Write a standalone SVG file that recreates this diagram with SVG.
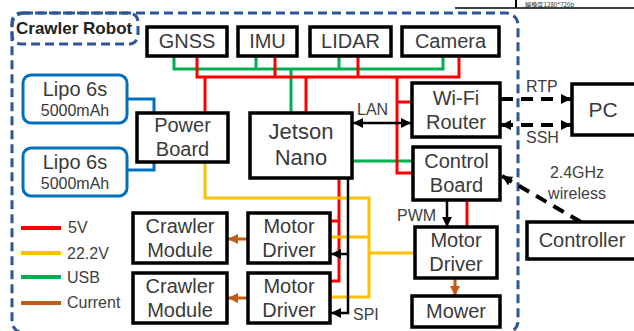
<svg xmlns="http://www.w3.org/2000/svg" width="634" height="331" viewBox="0 0 634 331">
<style>
  .box { fill: #fff; stroke: #000; stroke-width: 3.5; }
  .lipo { fill: #fff; stroke: #0070C0; stroke-width: 3; }
  .t { font-family: "Liberation Sans", Arial, sans-serif; fill: #3a3a3a; text-anchor: middle; }
  .b20 { font-size: 20px; }
  .s16 { font-size: 16px; }
  .lbl { font-family: "Liberation Sans", Arial, sans-serif; fill: #404040; font-size: 16px; }
  .red { stroke: #FF0000; stroke-width: 3; fill: none; }
  .yel { stroke: #FFC000; stroke-width: 3; fill: none; }
  .grn { stroke: #00B050; stroke-width: 3; fill: none; }
  .cur { stroke: #C55A11; stroke-width: 3; fill: none; }
  .blu { stroke: #0070C0; stroke-width: 3; fill: none; }
  .blk { stroke: #000; stroke-width: 2.5; fill: none; }
  .dsh { stroke: #000; stroke-width: 4; fill: none; stroke-dasharray: 12 8; }
  .cont { fill: none; stroke: #2F5597; stroke-width: 3; stroke-dasharray: 9 5; }
</style>
<defs>
  <marker id="ah" viewBox="0 0 10 10" refX="10" refY="5" markerWidth="10" markerHeight="10" markerUnits="userSpaceOnUse" orient="auto-start-reverse">
    <path d="M0,0 L10,5 L0,10 z" fill="#000"/>
  </marker>
  <marker id="ahc" viewBox="0 0 10 10" refX="10" refY="5" markerWidth="10" markerHeight="10" markerUnits="userSpaceOnUse" orient="auto">
    <path d="M0,0 L10,5 L0,10 z" fill="#C55A11"/>
  </marker>
</defs>
<rect width="634" height="331" fill="#fff"/>

<!-- cropped table fragment at top -->
<g id="fragment">
  <line x1="455" y1="8" x2="634" y2="8" stroke="#000" stroke-width="1.5"/>
  <line x1="516" y1="0" x2="516" y2="8" stroke="#000" stroke-width="2"/>
  <text x="525" y="7" font-family="'Noto Sans CJK JP', sans-serif" font-size="6.2" fill="#333">解像度1280*720p</text>
</g>

<!-- container -->
<g id="crawler-robot">
  <rect class="cont" x="12" y="13" width="506" height="320" rx="12"/>
  <rect class="cont" x="12" y="13" width="126" height="31" rx="9"/>
  <text x="16" y="34" font-family="'Liberation Sans', Arial, sans-serif" font-weight="bold" font-size="17" fill="#222">Crawler Robot</text>
</g>

<!-- connectors -->
<g id="connectors">
  <!-- USB bus -->
  <polyline class="grn" points="174,56 174,69 443,69 443,56"/>
  <line class="grn" x1="256" y1="56" x2="256" y2="69"/>
  <line class="grn" x1="339" y1="56" x2="339" y2="69"/>
  <line class="grn" x1="291" y1="69" x2="291" y2="113"/>
  <line class="grn" x1="352" y1="161" x2="413" y2="161"/>
  <!-- 5V bus -->
  <polyline class="red" points="197,56 197,77 459,77 459,56"/>
  <line class="red" x1="275" y1="56" x2="275" y2="77"/>
  <line class="red" x1="358" y1="56" x2="358" y2="77"/>
  <line class="red" x1="205" y1="77" x2="205" y2="113"/>
  <line class="red" x1="306" y1="77" x2="306" y2="113"/>
  <polyline class="red" points="397,77 397,173 413,173"/>
  <line class="red" x1="397" y1="102" x2="412" y2="102"/>
  <line class="red" x1="467" y1="200" x2="467" y2="227"/>
  <polyline class="red" points="339,178 339,281 330,281"/>
  <line class="red" x1="339" y1="221" x2="330" y2="221"/>
  <!-- 22.2V -->
  <polyline class="yel" points="205,162 205,198 369,198 369,297 330,297"/>
  <line class="yel" x1="369" y1="237" x2="330" y2="237"/>
  <line class="yel" x1="369" y1="253" x2="415" y2="253"/>
  <!-- Lipo to Power board -->
  <polyline class="blu" points="127,99 154,99 154,113"/>
  <polyline class="blu" points="127,170 154,170 154,162"/>
  <!-- LAN -->
  <line class="blk" x1="353" y1="123" x2="411" y2="123" marker-start="url(#ah)" marker-end="url(#ah)"/>
  <!-- SPI -->
  <polyline class="blk" points="348,178 348,313 331,313" marker-end="url(#ah)"/>
  <line class="blk" x1="348" y1="254" x2="331" y2="254" marker-end="url(#ah)"/>
  <!-- PWM -->
  <line class="blk" x1="447" y1="200" x2="447" y2="227" marker-end="url(#ah)"/>
  <!-- Current -->
  <line class="cur" x1="455" y1="278" x2="455" y2="296" marker-end="url(#ahc)"/>
  <line class="cur" x1="248" y1="239" x2="228" y2="239" marker-end="url(#ahc)"/>
  <line class="cur" x1="248" y1="298" x2="228" y2="298" marker-end="url(#ahc)"/>
  <!-- RTP / SSH -->
  <line class="dsh" x1="501" y1="99" x2="571" y2="99" marker-end="url(#ah)"/>
  <line class="dsh" x1="501" y1="125" x2="571" y2="125" marker-start="url(#ah)" marker-end="url(#ah)"/>
  <!-- wireless -->
  <line class="dsh" x1="581" y1="222" x2="502" y2="176" marker-end="url(#ah)"/>
</g>

<!-- connector labels -->
<g id="labels">
  <text class="lbl" x="357" y="115" font-size="15">LAN</text>
  <text class="lbl" x="526" y="92">RTP</text>
  <text class="lbl" x="526" y="143">SSH</text>
  <text class="lbl" x="397" y="221">PWM</text>
  <text class="lbl" x="353" y="320">SPI</text>
  <text class="lbl" x="577" y="178" font-size="17" text-anchor="middle">2.4GHz</text>
  <text class="lbl" x="577" y="199" font-size="16" text-anchor="middle">wireless</text>
</g>

<!-- legend -->
<g id="legend">
  <line x1="21" y1="228" x2="61" y2="228" stroke="#FF0000" stroke-width="4"/>
  <line x1="21" y1="253" x2="61" y2="253" stroke="#FFC000" stroke-width="4"/>
  <line x1="21" y1="277" x2="61" y2="277" stroke="#00B050" stroke-width="4"/>
  <line x1="21" y1="303" x2="61" y2="303" stroke="#C55A11" stroke-width="4"/>
  <text class="lbl" x="68" y="233" font-size="17">5V</text>
  <text class="lbl" x="67" y="259" font-size="17">22.2V</text>
  <text class="lbl" x="67" y="283" font-size="17">USB</text>
  <text class="lbl" x="67" y="308" font-size="17">Current</text>
</g>

<!-- nodes -->
<g id="gnss"><rect class="box" x="147" y="27" width="80" height="29"/><text class="t b20" x="187" y="48">GNSS</text></g>
<g id="imu"><rect class="box" x="238" y="27" width="59" height="29"/><text class="t b20" x="267.5" y="48">IMU</text></g>
<g id="lidar"><rect class="box" x="310" y="27" width="81" height="29"/><text class="t b20" x="350.5" y="48">LIDAR</text></g>
<g id="camera"><rect class="box" x="402" y="27" width="97" height="29"/><text class="t b20" x="450.5" y="48">Camera</text></g>

<g id="lipo1"><rect class="lipo" x="23" y="75" width="104" height="48" rx="8"/><text class="t b20" x="75" y="96">Lipo 6s</text><text class="t s16" x="75" y="116">5000mAh</text></g>
<g id="lipo2"><rect class="lipo" x="23" y="148" width="104" height="48" rx="8"/><text class="t b20" x="75" y="169">Lipo 6s</text><text class="t s16" x="75" y="189">5000mAh</text></g>

<g id="power-board"><rect class="box" x="137" y="113" width="91" height="49"/><text class="t b20" x="182.5" y="132">Power</text><text class="t b20" x="182.5" y="156">Board</text></g>
<g id="jetson-nano"><rect class="box" x="250" y="113" width="102" height="65"/><text class="t" font-size="22" x="301" y="139">Jetson</text><text class="t" font-size="22" x="301" y="165">Nano</text></g>
<g id="wifi-router"><rect class="box" x="412" y="83" width="88" height="54"/><text class="t b20" x="456" y="105">Wi-Fi</text><text class="t b20" x="456" y="129">Router</text></g>
<g id="control-board"><rect class="box" x="413" y="147" width="87" height="53"/><text class="t b20" x="456.5" y="168">Control</text><text class="t b20" x="456.5" y="192">Board</text></g>
<g id="pc"><rect class="box" x="572" y="84" width="70" height="51"/><text class="t" font-size="21" x="603" y="117">PC</text></g>
<g id="controller"><rect class="box" x="527" y="222" width="115" height="37"/><text class="t b20" x="582" y="247">Controller</text></g>

<g id="crawler-module1"><rect class="box" x="133" y="213" width="94" height="50"/><text class="t b20" x="180" y="233">Crawler</text><text class="t b20" x="180" y="257">Module</text></g>
<g id="crawler-module2"><rect class="box" x="133" y="273" width="94" height="50"/><text class="t b20" x="180" y="293">Crawler</text><text class="t b20" x="180" y="317">Module</text></g>
<g id="motor-driver1"><rect class="box" x="248" y="213" width="82" height="50"/><text class="t b20" x="289" y="233">Motor</text><text class="t b20" x="289" y="257">Driver</text></g>
<g id="motor-driver2"><rect class="box" x="248" y="273" width="82" height="50"/><text class="t b20" x="289" y="293">Motor</text><text class="t b20" x="289" y="317">Driver</text></g>
<g id="motor-driver3"><rect class="box" x="415" y="227" width="82" height="51"/><text class="t b20" x="456" y="247">Motor</text><text class="t b20" x="456" y="271">Driver</text></g>
<g id="mower"><rect class="box" x="412" y="296" width="88" height="31"/><text class="t b20" x="456" y="318">Mower</text></g>
</svg>
